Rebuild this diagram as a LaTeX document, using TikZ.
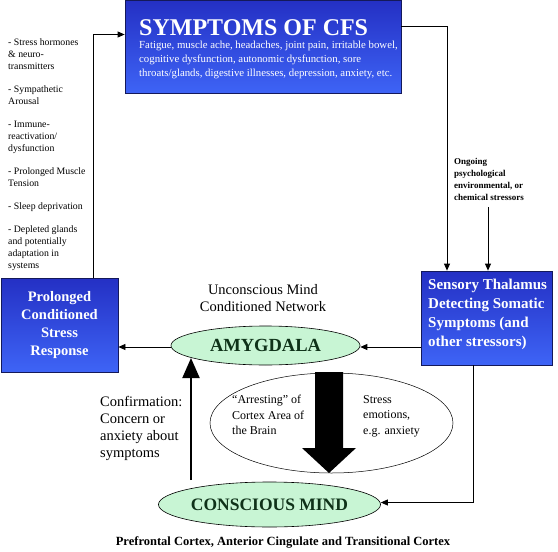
\documentclass[tikz,border=0pt]{standalone}
\usepackage{fontspec}
\setmainfont{Liberation Serif}
\usetikzlibrary{arrows.meta,shapes.geometric}
\definecolor{boxtop}{RGB}{36,48,196}
\definecolor{boxbot}{RGB}{62,100,246}
\definecolor{boxline}{RGB}{20,25,90}
\definecolor{mint}{RGB}{200,245,212}
\definecolor{darkgreen}{RGB}{15,50,25}
\tikzset{
  bluebox/.style={draw=boxline, line width=0.8pt, top color=boxtop, bottom color=boxbot, inner sep=0pt},
  greenell/.style={ellipse, draw=black, line width=0.6pt, fill=mint, inner sep=0pt, text=darkgreen},
  arr/.style={-{Triangle[length=7pt,width=6pt]}, line width=0.8pt},
  bigup/.style={-{Triangle[length=20pt,width=17pt]}, line width=2pt},
  plain/.style={inner sep=0pt, align=left},
}
\begin{document}
\begin{tikzpicture}[x=1pt,y=-1pt]
\useasboundingbox (0,0) rectangle (558,552);
% boxes
\node[bluebox, minimum width=276pt, minimum height=93pt] (sym) at (263,47) {};
\node[plain, anchor=base west, text=white, font=\fontsize{24}{26}\selectfont\bfseries] (symt) at (139,35) {SYMPTOMS OF CFS};
\node[plain, anchor=north west, text=white, font=\fontsize{10.8}{14}\selectfont] (symb) at (139,41)
  {Fatigue, muscle ache, headaches, joint pain, irritable bowel,\\cognitive dysfunction, autonomic dysfunction, sore\\throats/glands, digestive illnesses, depression, anxiety, etc.};
\node[bluebox, minimum width=131pt, minimum height=94pt] (sens) at (486.5,318) {};
\node[plain, anchor=north west, text=white, font=\fontsize{15}{19}\selectfont\bfseries] (senst) at (428,279)
  {Sensory Thalamus\\Detecting Somatic\\Symptoms (and\\other stressors)};
\node[bluebox, minimum width=117pt, minimum height=94pt] (pro) at (59.5,325) {};
\node[plain, align=center, text=white, font=\fontsize{14.5}{18}\selectfont\bfseries] (prot) at (pro)
  {Prolonged\\Conditioned\\Stress\\Response};
% ellipses
\node[greenell, minimum width=189pt, minimum height=39pt, font=\fontsize{18.5}{20}\selectfont\bfseries] (amy) at (265.5,345.5) {AMYGDALA};
\node[greenell, minimum width=197pt, minimum height=45pt, font=\fontsize{17.5}{20}\selectfont\bfseries] (con) at (269.5,504.5) {CONSCIOUS MIND};
\node[ellipse, draw=black, line width=0.5pt, minimum width=243pt, minimum height=100pt] (cortex) at (331.5,423) {};
% texts
\node[plain, anchor=north west, font=\fontsize{9.8}{12}\selectfont] (list) at (8,38)
  {- Stress hormones\\\& neuro-\\transmitters\\[11pt]
   - Sympathetic\\Arousal\\[11pt]
   - Immune-\\reactivation/\\dysfunction\\[11pt]
   - Prolonged Muscle\\Tension\\[11pt]
   - Sleep deprivation\\[11pt]
   - Depleted glands\\and potentially\\adaptation in\\systems};
\node[plain, anchor=north west, font=\fontsize{9}{12}\selectfont\bfseries] (stress) at (454,158)
  {Ongoing\\psychological\\environmental, or\\chemical stressors};
\node[plain, align=center, font=\fontsize{14.5}{17}\selectfont] (unc) at (263,298.5)
  {Unconscious Mind\\Conditioned Network};
\node[plain, anchor=north west, font=\fontsize{14.5}{17}\selectfont] (conf) at (100,396)
  {Confirmation:\\Concern or\\anxiety about\\symptoms};
\node[plain, anchor=north west, font=\fontsize{12}{15.5}\selectfont] (arrest) at (232,395)
  {“Arresting” of\\Cortex Area of\\the Brain};
\node[plain, anchor=north west, font=\fontsize{12}{15.5}\selectfont] (emo) at (363,395)
  {Stress\\emotions,\\e.g. anxiety};
\node[plain, font=\fontsize{12.5}{14}\selectfont\bfseries] (bottom) at (283,542)
  {Prefrontal Cortex, Anterior Cingulate and Transitional Cortex};
% connectors
\coordinate (lp) at (93,278);
\draw[arr] (lp) |- ([yshift=12.5pt]sym.west);
\draw[arr] ([yshift=21pt]sym.east) -| ([xshift=-39.5pt]sens.north);
\coordinate (st) at (488,207);
\draw[arr] (st) -- (st |- sens.north);
\draw[arr] (sens.west |- 0,347) -- (amy.east |- 0,347);
\draw[arr] (amy.west |- 0,347) -- (pro.east |- 0,347);
\draw[arr] ([xshift=-13.5pt]sens.south) |- ([yshift=2pt]con.east);
\coordinate (ub) at (191,480);
\coordinate (ut) at (191,358);
\draw[bigup] (ub) -- (ut);
% big black arrow
\fill[black] (315,372) -- (343,372) -- (343,448) -- (356,448) -- (329,473) -- (302,448) -- (315,448) -- cycle;
\end{tikzpicture}
\end{document}
